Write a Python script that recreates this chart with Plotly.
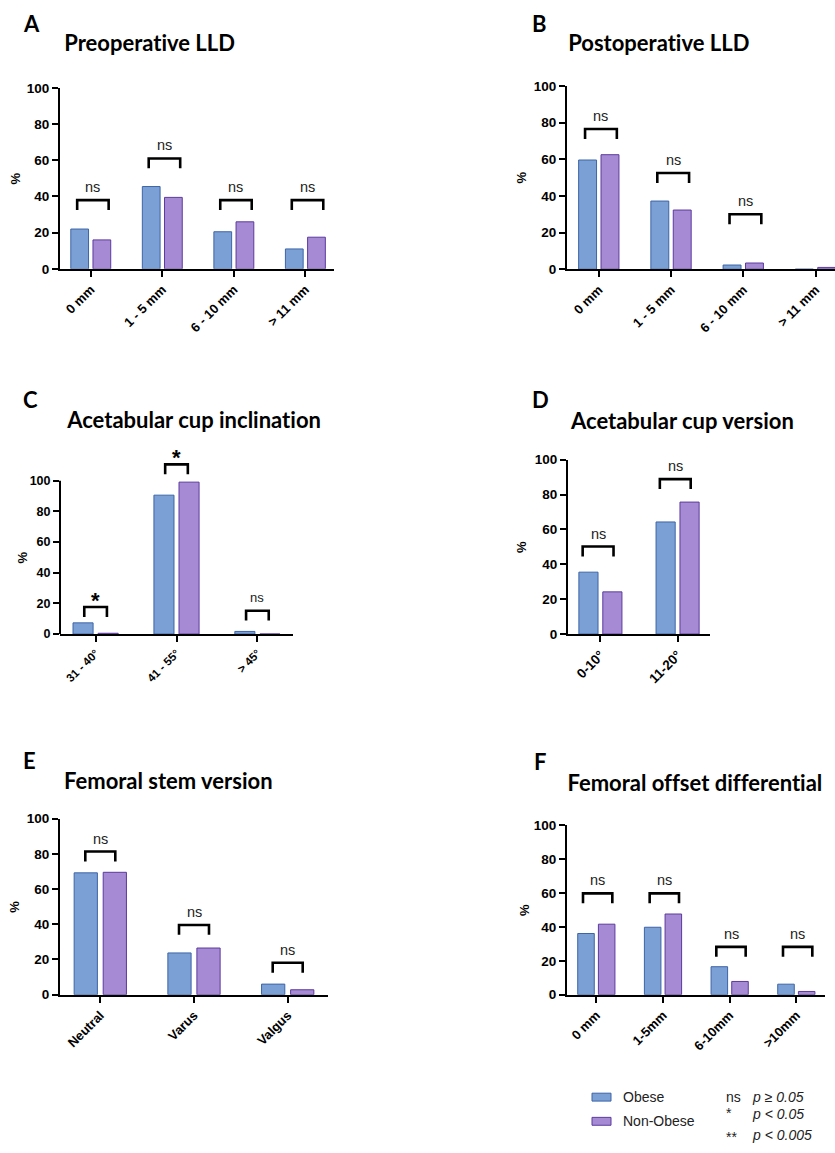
import plotly.graph_objects as go

W, H = 835, 1153

# ---------------- DATA ----------------
a_cats = ["0 mm", "1 - 5 mm", "6 - 10 mm", "> 11 mm"]
a_obese = [22.0, 45.5, 20.5, 11.0]
a_non = [16.0, 39.5, 26.0, 17.5]
a_sig = ["ns", "ns", "ns", "ns"]
a_brk = [38.0, 61.0, 38.0, 38.0]

b_cats = ["0 mm", "1 - 5 mm", "6 - 10 mm", "> 11 mm"]
b_obese = [59.6, 37.2, 2.3, 0.0]
b_non = [62.5, 32.3, 3.4, 1.0]
b_sig = ["ns", "ns", "ns", ""]
b_brk = [76.5, 52.5, 30.0, None]

c_cats = ["31 - 40°", "41 - 55°", "> 45°"]
c_obese = [7.3, 90.6, 1.7]
c_non = [0.5, 99.1, 0.0]
c_sig = ["*", "*", "ns"]
c_brk = [17.6, 110.7, 15.2]

d_cats = ["0-10°", "11-20°"]
d_obese = [35.5, 64.3]
d_non = [24.2, 75.7]
d_sig = ["ns", "ns"]
d_brk = [50.2, 88.9]

e_cats = ["Neutral", "Varus", "Valgus"]
e_obese = [69.2, 23.7, 6.0]
e_non = [69.5, 26.5, 2.8]
e_sig = ["ns", "ns", "ns"]
e_brk = [81.3, 39.6, 18.1]

f_cats = ["0 mm", "1-5mm", "6-10mm", ">10mm"]
f_obese = [36.1, 39.8, 16.5, 6.2]
f_non = [41.6, 47.6, 7.8, 1.9]
f_sig = ["ns", "ns", "ns", "ns"]
f_brk = [59.8, 59.8, 28.2, 28.2]

titles = ["Preoperative LLD", "Postoperative LLD", "Acetabular cup inclination",
          "Acetabular cup version", "Femoral stem version", "Femoral offset differential"]
letters = ["A", "B", "C", "D", "E", "F"]
series_names = ["Obese", "Non-Obese"]
y_ticks = [0, 20, 40, 60, 80, 100]

# ---------------- STYLE / LAYOUT ----------------
OB_FILL, OB_LINE = "#7BA0D5", "#3D64A6"
NO_FILL, NO_LINE = "#A68AD4", "#5C3A9E"
TICKFONT = "Liberation Sans, Arial, sans-serif"
TITLEFONT = "Lato, Open Sans, sans-serif"

def fx(p):
    return p / W

def fy(p):
    return 1 - p / H

panels = [
    dict(cats=a_cats, ob=a_obese, no=a_non, sig=a_sig, brk=a_brk,
         x0=60, x1=334, y100=82, ybot=265.3, ymax=100, xl=-0.43, xr=3.40,
         hw=0.22, dx=0.03, tfs=13, yfs=13.5, pct=-45, sfs=14.5,
         lx=31, ly=17, tx=62, ty=36),
    dict(cats=b_cats, ob=b_obese, no=b_non, sig=b_sig, brk=b_brk,
         x0=567, x1=835, y100=80, ybot=265.7, ymax=100, xl=-0.44, xr=3.27,
         hw=0.22, dx=0.03, tfs=13, yfs=13.5, pct=-45, sfs=14.5,
         lx=539, ly=17, tx=566, ty=36),
    dict(cats=c_cats, ob=c_obese, no=c_non, sig=c_sig, brk=c_brk,
         x0=60, x1=293, y100=480, ybot=635.3, ymax=125, xl=-0.44, xr=2.44,
         hw=0.14, dx=0.0, tfs=11.5, yfs=12.5, pct=-38, sfs=13,
         lx=30, ly=398, tx=64, ty=418),
    dict(cats=d_cats, ob=d_obese, no=d_non, sig=d_sig, brk=d_brk,
         x0=568, x1=710, y100=458.7, ybot=635.3, ymax=100, xl=-0.42, xr=1.42,
         hw=0.2, dx=-0.03, tfs=13.5, yfs=13.5, pct=-46, sfs=14.5,
         lx=540, ly=398, tx=568, ty=419),
    dict(cats=e_cats, ob=e_obese, no=e_non, sig=e_sig, brk=e_brk,
         x0=60, x1=328, y100=822.3, ybot=1000.7, ymax=100, xl=-0.43, xr=2.43,
         hw=0.16, dx=0.0, tfs=13, yfs=13.5, pct=-45, sfs=14.5,
         lx=29, ly=763, tx=62, ty=784),
    dict(cats=f_cats, ob=f_obese, no=f_non, sig=f_sig, brk=f_brk,
         x0=567, x1=825, y100=829, ybot=1000.7, ymax=100, xl=-0.44, xr=3.43,
         hw=0.22, dx=0.02, tfs=13, yfs=13.5, pct=-42, sfs=14.5,
         lx=540, ly=764, tx=566, ty=786),
]

fig = go.Figure()
shapes = []
annotations = []

for k, p in enumerate(panels):
    n = len(p["cats"])
    sfx = "" if k == 0 else str(k + 1)
    xa, ya = "x" + sfx, "y" + sfx
    xs = list(range(n))
    fig.add_trace(go.Bar(x=xs, y=p["ob"], name=series_names[0], xaxis=xa, yaxis=ya,
                         marker=dict(color=OB_FILL, line=dict(color=OB_LINE, width=1)),
                         showlegend=False))
    fig.add_trace(go.Bar(x=xs, y=p["no"], name=series_names[1], xaxis=xa, yaxis=ya,
                         marker=dict(color=NO_FILL, line=dict(color=NO_LINE, width=1)),
                         showlegend=False))
    ytop = p["ybot"] - (p["ybot"] - p["y100"]) * p["ymax"] / 100.0
    xkey = "xaxis" + sfx
    ykey = "yaxis" + sfx
    fig.update_layout(**{
        xkey: dict(domain=[fx(p["x0"]), fx(p["x1"])], anchor=ya, range=[p["xl"], p["xr"]],
                   tickvals=xs, ticktext=p["cats"], tickangle=-45,
                   tickfont=dict(family=TICKFONT, size=p["tfs"], color="black", weight="bold"),
                   ticks="outside", ticklen=6, tickwidth=2, tickcolor="black",
                   showline=True, linewidth=2, linecolor="black",
                   showgrid=False, zeroline=False, fixedrange=True),
        ykey: dict(domain=[fy(p["ybot"]), fy(ytop)], anchor=xa, range=[0, p["ymax"]],
                   tickvals=y_ticks, ticks="outside", ticklen=6, tickwidth=2, tickcolor="black",
                   tickfont=dict(family=TICKFONT, size=p["yfs"], color="black", weight="bold"),
                   showline=(p["ymax"] <= 100), linewidth=2, linecolor="black",
                   showgrid=False, zeroline=False, fixedrange=True),
    })
    if p["ymax"] > 100:
        shapes.append(dict(type="line", xref=xa + " domain", yref=ya, x0=0, x1=0, y0=0, y1=100,
                           line=dict(color="black", width=2)))
    ppu = (p["ybot"] - p["y100"]) / 100.0
    leg = 10.0 / ppu
    for i in range(n):
        s = p["sig"][i]
        if not s or p["brk"][i] is None:
            continue
        top = p["brk"][i]
        xc = i + p["dx"]
        xa0, xa1 = xc - p["hw"], xc + p["hw"]
        shapes.append(dict(type="path", xref=xa, yref=ya,
                           path=f"M {xa0},{top - leg} L {xa0},{top} L {xa1},{top} L {xa1},{top - leg}",
                           line=dict(color="black", width=2.6)))
        if s == "ns":
            annotations.append(dict(x=xc, y=top, xref=xa, yref=ya, text="ns", showarrow=False,
                                    yshift=13, xanchor="center", yanchor="middle",
                                    font=dict(family=TICKFONT, size=p["sfs"], color="#222222")))
        else:
            annotations.append(dict(x=xc, y=top, xref=xa, yref=ya, text=s, showarrow=False,
                                    yshift=7, xanchor="center", yanchor="middle",
                                    font=dict(family=TICKFONT, size=22, color="black", weight="bold")))
    annotations.append(dict(x=0, y=50, xref=xa + " domain", yref=ya, text="%", textangle=-90,
                            xshift=p["pct"], xanchor="center", yanchor="middle", showarrow=False,
                            font=dict(family=TICKFONT, size=13, color="black", weight="bold")))
    annotations.append(dict(x=fx(p["lx"]), y=fy(p["ly"]), xref="paper", yref="paper",
                            text=letters[k], showarrow=False, xanchor="center", yanchor="middle",
                            font=dict(family=TITLEFONT, size=22, color="black", weight="bold")))
    annotations.append(dict(x=fx(p["tx"]), y=fy(p["ty"]), xref="paper", yref="paper",
                            text=titles[k], showarrow=False, xanchor="left", yanchor="middle",
                            font=dict(family=TITLEFONT, size=22, color="black", weight="bold")))

# custom legend
leg_items = [(series_names[0], OB_FILL, OB_LINE, 1104.5), (series_names[1], NO_FILL, NO_LINE, 1129)]
for name, fill, line, yc in leg_items:
    shapes.append(dict(type="rect", xref="paper", yref="paper",
                       x0=fx(592), x1=fx(611), y0=fy(yc + 4), y1=fy(yc - 4),
                       fillcolor=fill, line=dict(color=line, width=1)))
    annotations.append(dict(x=fx(621), y=fy(yc), xref="paper", yref="paper", text=name,
                            showarrow=False, xanchor="left", yanchor="middle",
                            font=dict(family=TICKFONT, size=14, color="#222222")))
sig_keys = [("ns", "p ≥ 0.05", 1104, 1104), ("*", "p < 0.05", 1121, 1122), ("**", "p < 0.005", 1145, 1143)]
for sym, txt, ys, yt in sig_keys:
    annotations.append(dict(x=fx(724), y=fy(ys), xref="paper", yref="paper", text=sym,
                            showarrow=False, xanchor="left", yanchor="middle",
                            font=dict(family=TICKFONT, size=14, color="#222222")))
    annotations.append(dict(x=fx(750), y=fy(yt), xref="paper", yref="paper", text=txt,
                            showarrow=False, xanchor="left", yanchor="middle",
                            font=dict(family=TICKFONT, size=14, color="#222222", style="italic")))

fig.update_layout(width=W, height=H, margin=dict(l=0, r=0, t=0, b=0),
                  paper_bgcolor="white", plot_bgcolor="white",
                  barmode="group", bargap=0.38, bargroupgap=0.2,
                  shapes=shapes, annotations=annotations, showlegend=False)

PAGE = ("var gd=document.getElementById('{plot_id}');"
        "gd.querySelectorAll('text, tspan').forEach(function(t){"
        "t.style.setProperty('font-variant-ligatures','none');"
        "t.style.setProperty('font-feature-settings','\"liga\" 0, \"clig\" 0');});"
        "document.body.style.margin='0px';document.body.style.overflow='hidden';"
        "document.documentElement.style.overflow='hidden';")
fig.write_html("out.html", config={"displayModeBar": False}, post_script=PAGE)
